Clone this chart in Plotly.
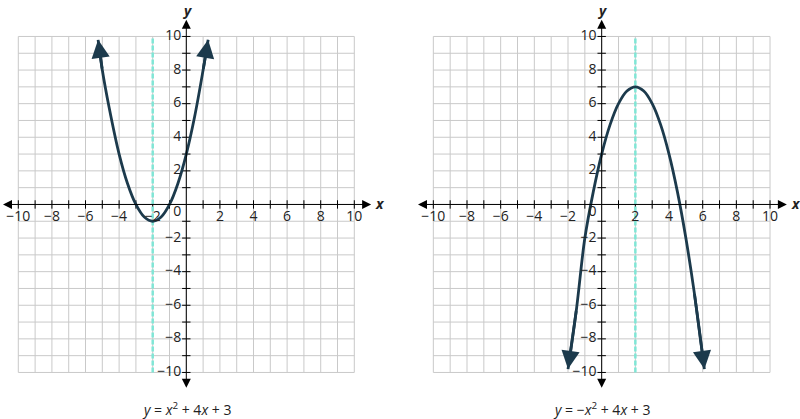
import plotly.graph_objects as go

# grid / tick values
grid_vals = list(range(-10, 11))
label_vals = [-10, -8, -6, -4, -2, 2, 4, 6, 8, 10]
label_text = ["\u221210", "\u22128", "\u22126", "\u22124", "\u22122", "2", "4", "6", "8", "10"]

left_x = [-5.25, -5.0, -4.6, -4.0, -3.5, -3.0, -2.5, -2.0, -1.5, -1.0, -0.5, 0.0, 0.5, 1.0, 1.3]
left_y = [9.8, 8.0, 5.8, 3.0, 1.25, 0.0, -0.75, -1.0, -0.75, 0.0, 1.25, 3.0, 5.25, 8.0, 9.8]

right_x = [-2.0, -1.5, -1.0, -0.5, 0.0, 0.5, 1.0, 1.5, 2.0, 2.5, 3.0, 3.5, 4.0, 4.5, 5.0, 5.5, 6.1]
right_y = [-9.8, -6.25, -2.0, 0.75, 3.0, 4.75, 6.0, 6.75, 7.0, 6.75, 6.0, 4.75, 3.0, 0.75, -2.0, -5.25, -9.8]

axis_of_symmetry = [-2, 2]
captions = ["<i>y</i> = <i>x</i><sup>2</sup> + 4<i>x</i> + 3",
            "<i>y</i> = \u2212<i>x</i><sup>2</sup> + 4<i>x</i> + 3"]

CURVE = "#1c3a4c"
GRID = "#c9c9c9"
DASH = "#80e6d6"
TEXT = "#222222"
FONT = "Open Sans"

fig = go.Figure()


def grid_lines():
    gx, gy = [], []
    for v in grid_vals:
        gx += [v, v, None]
        gy += [-10, 10, None]
        gx += [-10, 10, None]
        gy += [v, v, None]
    return gx, gy


def tick_marks():
    tx, ty = [], []
    for v in grid_vals:
        if v == 0:
            continue
        tx += [v, v, None]
        ty += [-0.25, 0.25, None]
        tx += [-0.25, 0.25, None]
        ty += [v, v, None]
    return tx, ty


def add_panel(n, cx, cy, sym_x, caption):
    xa = "x" if n == 1 else "x%d" % n
    ya = "y" if n == 1 else "y%d" % n

    gx, gy = grid_lines()
    fig.add_trace(go.Scatter(x=gx, y=gy, mode="lines", line=dict(color=GRID, width=1),
                             xaxis=xa, yaxis=ya, hoverinfo="skip"))
    tx, ty = tick_marks()
    fig.add_trace(go.Scatter(x=tx, y=ty, mode="lines", line=dict(color="#000000", width=1),
                             xaxis=xa, yaxis=ya, hoverinfo="skip"))
    # axis of symmetry
    fig.add_trace(go.Scatter(x=[sym_x, sym_x], y=[-10, 10], mode="lines",
                             line=dict(color=DASH, width=2.5, dash="5px,2px"),
                             xaxis=xa, yaxis=ya, hoverinfo="skip"))
    # parabola
    fig.add_trace(go.Scatter(x=cx, y=cy, mode="lines", line=dict(color=CURVE, width=2.8, shape="spline"),
                             xaxis=xa, yaxis=ya, hoverinfo="skip"))
    # tick labels
    fig.add_trace(go.Scatter(x=label_vals, y=[-0.75] * len(label_vals), mode="text", text=label_text,
                             textfont=dict(family=FONT, size=14, color=TEXT),
                             xaxis=xa, yaxis=ya, hoverinfo="skip"))
    fig.add_trace(go.Scatter(x=[-0.3] * len(label_vals), y=label_vals, mode="text", text=label_text,
                             textposition="middle left",
                             textfont=dict(family=FONT, size=14, color=TEXT),
                             xaxis=xa, yaxis=ya, hoverinfo="skip"))
    fig.add_trace(go.Scatter(x=[-0.3], y=[-0.45], mode="text", text=["0"], textposition="middle left",
                             textfont=dict(family=FONT, size=14, color=TEXT),
                             xaxis=xa, yaxis=ya, hoverinfo="skip"))

    # main axes with arrows at both ends
    fig.add_annotation(x=11, y=0, ax=-11, ay=0, xref=xa, yref=ya, axref=xa, ayref=ya,
                       text="", showarrow=True, arrowhead=2, arrowsize=1.8, arrowwidth=1,
                       arrowside="end+start", arrowcolor="#000000")
    fig.add_annotation(x=0, y=11, ax=0, ay=-11, xref=xa, yref=ya, axref=xa, ayref=ya,
                       text="", showarrow=True, arrowhead=2, arrowsize=1.8, arrowwidth=1,
                       arrowside="end+start", arrowcolor="#000000")
    fig.add_annotation(x=11.55, y=0.05, xref=xa, yref=ya, text="<b><i>x</i></b>", showarrow=False,
                       font=dict(family=FONT, size=14, color=TEXT))
    fig.add_annotation(x=0.05, y=11.55, xref=xa, yref=ya, text="<b><i>y</i></b>", showarrow=False,
                       font=dict(family=FONT, size=14, color=TEXT))

    # arrowheads at both ends of the parabola
    fig.add_annotation(x=cx[0], y=cy[0], ax=cx[1], ay=cy[1], xref=xa, yref=ya, axref=xa, ayref=ya,
                       text="", showarrow=True, arrowhead=2, arrowsize=1.3, arrowwidth=2.8,
                       arrowcolor=CURVE)
    fig.add_annotation(x=cx[-1], y=cy[-1], ax=cx[-2], ay=cy[-2], xref=xa, yref=ya, axref=xa, ayref=ya,
                       text="", showarrow=True, arrowhead=2, arrowsize=1.3, arrowwidth=2.8,
                       arrowcolor=CURVE)

    fig.add_annotation(x=0, y=-12.15, xref=xa, yref=ya, text=caption, showarrow=False,
                       font=dict(family=FONT, size=14, color=TEXT))


add_panel(1, left_x, left_y, axis_of_symmetry[0], captions[0])
add_panel(2, right_x, right_y, axis_of_symmetry[1], captions[1])

ax_style = dict(showgrid=False, zeroline=False, showticklabels=False, ticks="", fixedrange=True)
fig.update_layout(
    width=800, height=419,
    margin=dict(l=0, r=0, t=0, b=0),
    paper_bgcolor="white", plot_bgcolor="white",
    showlegend=False,
    xaxis=dict(domain=[0, 0.5], range=[-11.09, 12.72], anchor="y", **ax_style),
    yaxis=dict(domain=[0, 1], range=[-12.77, 12.17], anchor="x", **ax_style),
    xaxis2=dict(domain=[0.5, 1], range=[-11.98, 11.78], anchor="y2", **ax_style),
    yaxis2=dict(domain=[0, 1], range=[-12.77, 12.17], anchor="x2", **ax_style),
)

fig.write_html("out.html", config={"displayModeBar": False},
               post_script="document.body.style.margin='0';")
